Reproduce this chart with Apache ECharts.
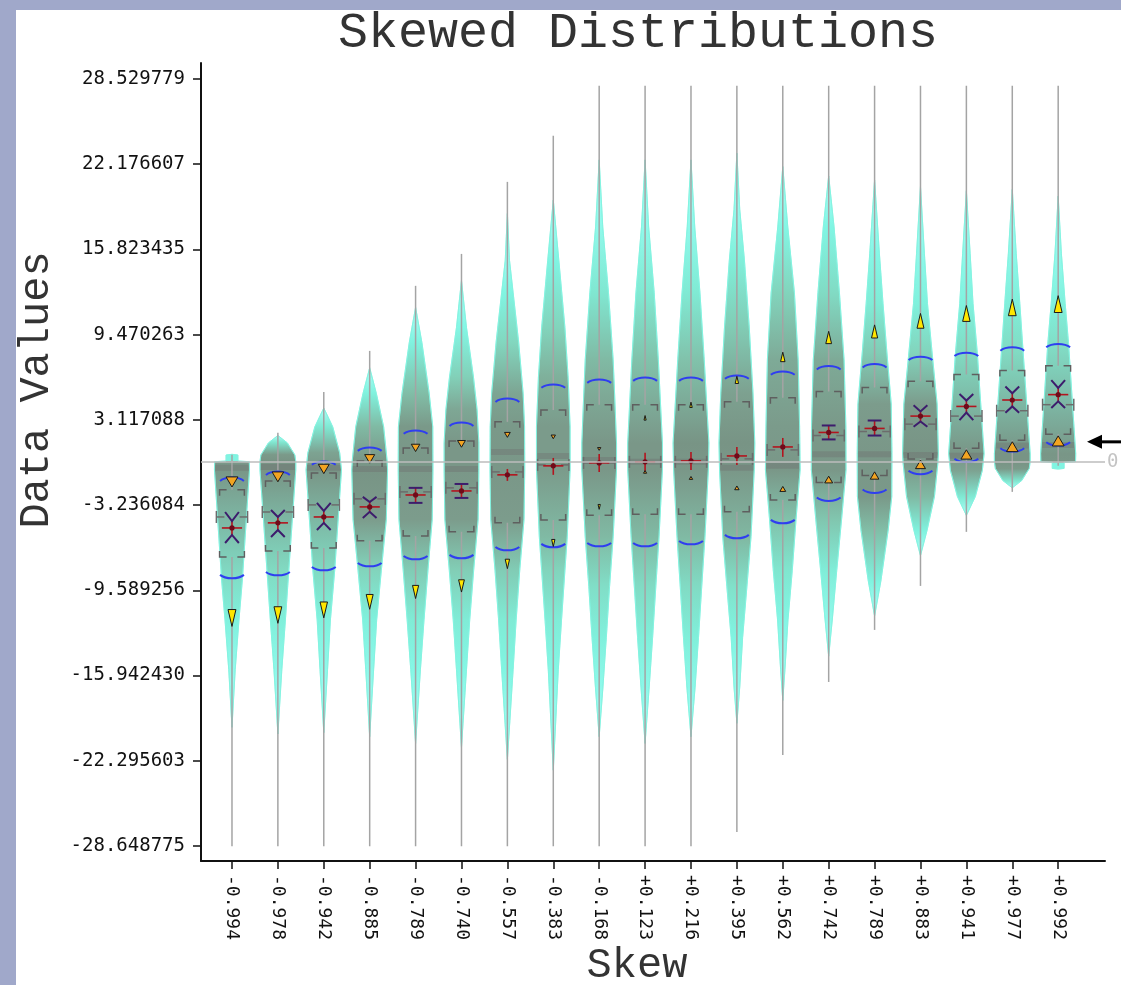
<!DOCTYPE html>
<html><head><meta charset="utf-8">
<script src="https://cdn.jsdelivr.net/npm/echarts@6.0.0/dist/echarts.min.js"></script>
<style>html,body{margin:0;padding:0;background:#a0a8ca;}#c{width:1121px;height:985px;}</style>
</head><body><div id="c"></div>
<script>
// ---------------- data ----------------
const categories = ['-0.994','-0.978','-0.942','-0.885','-0.789','-0.740','-0.557','-0.383','-0.168','+0.123','+0.216','+0.395','+0.562','+0.742','+0.789','+0.883','+0.941','+0.977','+0.992'];
const yTickLabels = ['28.529779','22.176607','15.823435','9.470263','3.117088','-3.236084','-9.589256','-15.942430','-22.295603','-28.648775'];

// data range (whisker ends)
const rangeMax = [0.51, 2.15, 5.20, 8.26, 13.11, 15.49, 20.86, 24.29, 28.02, 28.02, 28.02, 28.02, 28.02, 28.02, 28.02, 28.02, 28.02, 28.02, 28.02];
const rangeMin = [-28.66, -28.66, -28.66, -28.66, -28.66, -28.66, -28.66, -28.66, -28.66, -28.66, -28.66, -27.61, -21.86, -16.42, -12.54, -9.26, -5.23, -2.25, -0.31];
// quartiles (corner brackets)
const q3 = [-2.10, -1.43, -0.84, 0.06, 1.03, 1.55, 2.97, 3.86, 4.24, 4.24, 4.24, 4.46, 4.76, 5.24, 5.53, 6.00, 6.50, 6.80, 7.15];
const q1 = [-7.10, -6.65, -6.43, -5.90, -5.53, -5.23, -4.56, -4.34, -4.00, -3.92, -3.92, -3.74, -2.85, -1.55, -1.03, 0.20, 1.00, 1.60, 2.05];
// median (H bracket)
const median = [-4.12, -3.75, -3.22, -2.77, -2.25, -1.95, -0.76, -0.24, -0.09, -0.01, -0.01, 0.21, 0.88, 1.95, 2.25, 2.80, 3.40, 3.80, 4.25];
// mean and its error bar (red cross)
const mean = [-4.94, -4.56, -4.12, -3.37, -2.48, -2.18, -0.98, -0.31, -0.09, -0.01, 0.06, 0.43, 1.10, 2.18, 2.48, 3.40, 4.12, 4.60, 5.00];
const seHi = [-4.42, -4.12, -3.67, -3.00, -1.95, -1.66, -0.54, 0.28, 0.58, 0.66, 0.73, 1.10, 1.77, 2.70, 3.07, 3.75, 4.56, 5.10, 5.50];
const seLo = [-5.46, -5.09, -4.56, -3.74, -3.07, -2.70, -1.43, -0.98, -0.76, -0.69, -0.61, -0.24, 0.36, 1.66, 1.95, 3.00, 3.67, 4.12, 4.50];
// notch arm tips (purple X)
const notchHi = [-3.75, -3.60, -3.07, -2.62, -1.95, -1.66, null, null, null, null, null, null, null, 2.70, 3.07, 4.20, 5.05, 5.60, 6.08];
const notchLo = [-6.06, -5.61, -5.09, -4.19, -3.07, -2.70, null, null, null, null, null, null, null, 1.66, 1.95, 2.60, 3.10, 3.65, 4.00];
// mean +/- sd (blue arcs)
const sdHi = [-1.21, -0.76, -0.01, 1.03, 2.30, 2.89, 4.68, 5.73, 6.10, 6.25, 6.25, 6.40, 6.70, 7.10, 7.25, 7.80, 8.10, 8.50, 8.75];
const sdLo = [-8.66, -8.44, -8.07, -7.77, -7.25, -7.17, -6.58, -6.35, -6.28, -6.28, -6.13, -5.68, -4.56, -2.90, -2.30, -0.90, 0.00, 0.78, 1.23];
// mode (orange triangle) and tail marker (yellow triangle)
const modeVal = [-1.51, -1.13, -0.54, 0.21, 1.03, 1.33, 2.00, 1.85, 0.95, -0.76, -1.21, -1.95, -2.03, -1.33, -1.03, -0.20, 0.54, 1.12, 1.55];
const tailVal = [-11.65, -11.43, -11.05, -10.45, -9.71, -9.26, -7.62, -6.06, -3.37, 3.27, 4.24, 6.10, 7.81, 9.26, 9.71, 10.50, 11.05, 11.50, 11.75];
// darker density band
const bandVal = [-0.46, -0.39, -0.46, -0.54, -0.54, -0.54, 0.73, 0.43, 0.13, -0.01, -0.01, -0.46, -0.31, 0.55, 0.55, 0.50, 0.45, 1.20, 1.25];
// density profiles: [value, relative density]
const profile0  = [[0.55,0],[0.5,0.33],[0.05,0.33],[0.0,0.97],[-0.6,0.98],[-8.8,0.58],[-11.8,0.39],[-15.5,0.18],[-19.8,0]];
const profile1  = [[1.95,0],[1.4,0.53],[0.5,0.95],[0.0,1.0],[-0.6,1.0],[-8.1,0.61],[-11.8,0.42],[-15.5,0.22],[-20.3,0]];
const profile2  = [[4.0,0],[2.6,0.5],[0.66,0.89],[-0.6,0.99],[-8.1,0.61],[-11.8,0.37],[-15.5,0.21],[-20.2,0]];
const profile3  = [[7.0,0],[5.1,0.37],[2.6,0.78],[0.13,0.97],[-0.6,1.0],[-4.3,0.93],[-8.1,0.65],[-11.8,0.39],[-15.5,0.22],[-20.5,0]];
const profile4  = [[11.5,0],[8.9,0.35],[5.1,0.76],[2.6,0.96],[-0.6,0.97],[-4.3,0.93],[-8.1,0.69],[-11.8,0.47],[-15.5,0.27],[-21.0,0]];
const profile5  = [[13.5,0],[10.0,0.28],[6.3,0.67],[3.9,0.87],[1.4,0.97],[-0.6,0.97],[-4.3,0.93],[-8.1,0.68],[-11.8,0.46],[-15.5,0.28],[-21.3,0]];
const profile6  = [[18.5,0],[15.0,0.12],[12.6,0.32],[8.9,0.63],[5.1,0.88],[2.6,0.96],[-0.6,0.97],[-4.3,0.93],[-8.1,0.69],[-11.8,0.49],[-15.5,0.32],[-19.3,0.14],[-22.2,0]];
const profile7  = [[19.5,0],[15.0,0.31],[10.0,0.65],[6.3,0.83],[2.6,0.94],[-0.6,0.94],[-5.6,0.78],[-8.1,0.65],[-11.8,0.46],[-15.5,0.28],[-23.0,0]];
const profile8  = [[22.5,0],[17.5,0.2],[12.6,0.52],[7.6,0.78],[5.1,0.86],[1.4,0.97],[-0.6,0.97],[-5.6,0.78],[-9.3,0.58],[-13.1,0.4],[-16.8,0.21],[-20.5,0]];
const profile9  = [[22.5,0],[17.5,0.2],[12.6,0.51],[7.6,0.74],[1.4,0.97],[-0.6,0.97],[-5.6,0.78],[-9.3,0.6],[-13.1,0.42],[-16.8,0.23],[-21.0,0]];
const profile10 = [[22.5,0],[17.5,0.21],[12.6,0.5],[7.6,0.74],[1.4,1.0],[-0.6,0.97],[-5.6,0.78],[-9.3,0.6],[-13.1,0.42],[-16.8,0.23],[-20.5,0]];
const profile11 = [[23.0,0],[18.8,0.16],[15.05,0.42],[10.05,0.69],[5.13,0.9],[1.4,1.0],[-0.6,0.97],[-5.6,0.79],[-9.3,0.56],[-13.1,0.32],[-16.8,0.16],[-19.5,0]];
const profile12 = [[22.0,0],[17.5,0.28],[12.6,0.65],[7.6,0.86],[2.6,0.94],[-0.6,0.97],[-4.3,0.74],[-8.1,0.53],[-11.8,0.29],[-15.5,0.12],[-17.8,0]];
const profile13 = [[21.3,0],[17.5,0.3],[12.6,0.6],[7.6,0.86],[2.6,0.96],[-0.6,0.97],[-4.3,0.72],[-8.1,0.45],[-11.8,0.2],[-14.5,0]];
const profile14 = [[21.0,0],[15.5,0.27],[11.8,0.47],[8.1,0.69],[4.3,0.93],[0.6,0.97],[-2.6,0.96],[-5.1,0.76],[-8.9,0.35],[-11.5,0]];
const profile15 = [[20.5,0],[15.5,0.22],[11.8,0.39],[8.1,0.65],[4.3,0.93],[0.6,1.0],[-0.13,0.97],[-2.6,0.78],[-5.1,0.37],[-7.0,0]];
const profile16 = [[20.2,0],[15.5,0.21],[11.8,0.37],[8.1,0.61],[0.6,0.99],[-0.66,0.89],[-2.6,0.5],[-4.0,0]];
const profile17 = [[20.3,0],[15.5,0.22],[11.8,0.42],[8.1,0.61],[0.6,1.0],[0.0,1.0],[-0.5,0.95],[-1.4,0.53],[-1.95,0]];
const profile18 = [[19.8,0],[15.5,0.18],[11.8,0.39],[8.8,0.58],[0.6,0.98],[0.0,0.97],[-0.05,0.33],[-0.5,0.33],[-0.55,0]];
const profiles = [profile0,profile1,profile2,profile3,profile4,profile5,profile6,profile7,profile8,profile9,profile10,profile11,profile12,profile13,profile14,profile15,profile16,profile17,profile18];
const arrowValue = 1.48;

// ---------------- rendering ----------------
const skews = categories.map(Number);
const yTickVals = yTickLabels.map(Number);
const MONO = '"DejaVu Sans Mono", monospace';
const TITLEFONT = '"Liberation Mono", "Courier New", monospace';

const colorStops = [[0,[175,255,250]],[0.3,[128,246,228]],[0.5,[128,234,212]],[0.65,[130,212,188]],[0.8,[128,182,160]],[0.92,[124,157,141]],[1.0,[120,148,133]]];
function densityColor(d) {
  for (let k = 1; k < colorStops.length; k++) {
    if (d <= colorStops[k][0]) {
      const a = colorStops[k-1], b = colorStops[k];
      const t = (d - a[0]) / (b[0] - a[0]);
      const c = a[1].map((x, j) => Math.round(x + (b[1][j] - x) * t));
      return 'rgb(' + c.join(',') + ')';
    }
  }
  return 'rgb(' + colorStops[colorStops.length-1][1].join(',') + ')';
}
function densityAt(prof, v) {
  for (let k = 1; k < prof.length; k++) {
    const a = prof[k-1], b = prof[k];
    if (v <= a[0] && v >= b[0]) {
      const t = (a[0] - v) / (a[0] - b[0] || 1);
      return a[1] + (b[1] - a[1]) * t;
    }
  }
  return 0;
}

function renderViolin(params, api) {
  const i = params.dataIndex;
  const prof = profiles[i];
  const bw = api.size([1, 0])[0];
  const maxHW = bw * 0.39;
  const right = [], left = [];
  prof.forEach(([v, d]) => {
    const p = api.coord([i, v]);
    right.push([p[0] + d * maxHW, p[1]]);
    left.unshift([p[0] - d * maxHW, p[1]]);
  });
  const y0 = right[0][1], y1 = right[right.length - 1][1];
  const gstops = prof.map(([v, d]) => ({ offset: Math.min(1, Math.max(0, (api.coord([i, v])[1] - y0) / (y1 - y0))), color: densityColor(d) }));
  const children = [{
    type: 'polygon',
    shape: { points: right.concat(left) },
    style: { fill: new echarts.graphic.LinearGradient(0, 0, 0, 1, gstops), stroke: 'rgba(130,242,224,0.8)', lineWidth: 1 }
  }];
  // darker band
  const bv = bandVal[i];
  const bd = densityAt(prof, bv);
  const bp = api.coord([i, bv]);
  children.push({ type: 'rect', shape: { x: bp[0] - bd * maxHW + 1, y: bp[1] - 3, width: Math.max(0, 2 * bd * maxHW - 2), height: 6 }, style: { fill: 'rgba(110,110,110,0.38)' } });
  return { type: 'group', children };
}

function renderOverlay(params, api) {
  const i = params.dataIndex;
  const bw = api.size([1, 0])[0];
  const cx = api.coord([i, 0])[0];
  const Y = v => api.coord([i, v])[1];
  const kids = [];
  const line = (pts, color, w) => kids.push({ type: 'polyline', shape: { points: pts }, style: { stroke: color, lineWidth: w, fill: null } });
  // whiskers
  line([[cx, Y(rangeMax[i])], [cx, Y(q3[i])]], '#a4a4a4', 1.5);
  line([[cx, Y(q1[i])], [cx, Y(rangeMin[i])]], '#a4a4a4', 1.5);
  // blue arcs
  const aw = bw * 0.26;
  const yh = Y(sdHi[i]), yl = Y(sdLo[i]);
  kids.push({ type: 'bezierCurve', shape: { x1: cx - aw, y1: yh + 3, x2: cx + aw, y2: yh + 3, cpx1: cx - aw * 0.55, cpy1: yh - 1.5, cpx2: cx + aw * 0.55, cpy2: yh - 1.5 }, style: { stroke: '#2f3ef0', lineWidth: 2, fill: null } });
  kids.push({ type: 'bezierCurve', shape: { x1: cx - aw, y1: yl - 3, x2: cx + aw, y2: yl - 3, cpx1: cx - aw * 0.55, cpy1: yl + 1.5, cpx2: cx + aw * 0.55, cpy2: yl + 1.5 }, style: { stroke: '#2f3ef0', lineWidth: 2, fill: null } });
  // quartile corner brackets
  const bh = bw * 0.27, arm = 6;
  const yq3 = Y(q3[i]), yq1 = Y(q1[i]);
  const bc = '#5f5f5f';
  line([[cx - bh, yq3 + arm], [cx - bh, yq3], [cx - bh + arm + 1, yq3]], bc, 1.5);
  line([[cx + bh, yq3 + arm], [cx + bh, yq3], [cx + bh - arm - 1, yq3]], bc, 1.5);
  line([[cx - bh, yq1 - arm], [cx - bh, yq1], [cx - bh + arm + 1, yq1]], bc, 1.5);
  line([[cx + bh, yq1 - arm], [cx + bh, yq1], [cx + bh - arm - 1, yq1]], bc, 1.5);
  // median H bracket
  const hh = bw * 0.34, ymed = Y(median[i]);
  const hc = '#6c6c6c';
  line([[cx - hh, ymed - 6], [cx - hh, ymed + 6]], hc, 1.5);
  line([[cx + hh, ymed - 6], [cx + hh, ymed + 6]], hc, 1.5);
  line([[cx - hh, ymed], [cx - hh + 8, ymed]], hc, 1.5);
  line([[cx + hh, ymed], [cx + hh - 8, ymed]], hc, 1.5);
  // red mean cross
  const rw = bw * 0.22, ym = Y(mean[i]);
  line([[cx - rw, ym], [cx + rw, ym]], '#b3141e', 1.6);
  line([[cx, Y(seHi[i])], [cx, Y(seLo[i])]], '#b3141e', 1.6);
  // purple notch X
  if (notchHi[i] !== null) {
    const xw = bw * 0.15;
    line([[cx - xw, Y(notchHi[i])], [cx, Y(seHi[i])], [cx + xw, Y(notchHi[i])]], '#3d1c6c', 2);
    line([[cx - xw, Y(notchLo[i])], [cx, Y(seLo[i])], [cx + xw, Y(notchLo[i])]], '#3d1c6c', 2);
  }
  kids.push({ type: 'circle', shape: { cx: cx, cy: ym, r: 2.6 }, style: { fill: '#6e0b1a' } });
  // triangles
  const s = Math.abs(skews[i]);
  const dir = skews[i] < 0 ? 1 : -1; // 1 = pointing down
  const tri = (yc, w, h, fill) => {
    const pts = dir > 0
      ? [[cx - w / 2, yc - h / 2], [cx + w / 2, yc - h / 2], [cx, yc + h / 2]]
      : [[cx - w / 2, yc + h / 2], [cx + w / 2, yc + h / 2], [cx, yc - h / 2]];
    kids.push({ type: 'polygon', shape: { points: pts }, style: { fill: fill, stroke: '#1a1a1a', lineWidth: 1 } });
  };
  const ow = 3 + 9 * s * s;
  tri(Y(modeVal[i]), ow, ow * 0.85, '#f2a422');
  const yhgt = 4 + 13 * Math.pow(s, 1.5);
  tri(Y(tailVal[i]), yhgt * 0.47, yhgt, '#ffe600');
  return { type: 'group', children: kids };
}

const chart = echarts.init(document.getElementById('c'), null, { renderer: 'canvas' });
const seriesData = categories.map((c, i) => [i, mean[i]]);
const idx = categories.map((c, i) => i);

chart.setOption({
  backgroundColor: '#a0a8ca',
  animation: false,
  grid: { left: 201, right: 16, top: 63, bottom: 124, containLabel: false },
  xAxis: {
    type: 'value', min: -0.675, max: 19.02,
    axisLine: { show: true, onZero: false, lineStyle: { color: '#111', width: 2 } },
    axisTick: { show: true, customValues: idx, length: 8, lineStyle: { color: '#111', width: 1.5 } },
    axisLabel: { customValues: idx, formatter: v => categories[Math.round(v)], rotate: -90, margin: 14, color: '#111', fontFamily: MONO, fontSize: 18 },
    splitLine: { show: false }
  },
  yAxis: {
    type: 'value', min: -29.767, max: 29.722,
    axisLine: { show: true, onZero: false, lineStyle: { color: '#111', width: 2 } },
    axisTick: { show: true, customValues: yTickVals, length: 8, lineStyle: { color: '#111', width: 1.5 } },
    axisLabel: { customValues: yTickVals, formatter: v => { const k = yTickVals.findIndex(t => Math.abs(t - v) < 1e-6); return k >= 0 ? yTickLabels[k] : ''; }, margin: 16, color: '#111', fontFamily: MONO, fontSize: 19 },
    splitLine: { show: false }
  },
  graphic: [
    { type: 'rect', id: 'panel', z: -100, shape: { x: 16, y: 10, width: 1105, height: 975 }, style: { fill: '#ffffff' } },
    { type: 'text', id: 'title', x: 638, y: 34, style: { text: 'Skewed Distributions', font: '50px ' + TITLEFONT, fill: '#333', align: 'center', verticalAlign: 'middle' } },
    { type: 'text', id: 'ytitle', x: 37, y: 390, rotation: Math.PI / 2, style: { text: 'Data Values', font: '42px ' + TITLEFONT, fill: '#333', align: 'center', verticalAlign: 'middle' } },
    { type: 'text', id: 'xtitle', x: 637, y: 966, style: { text: 'Skew', font: '42px ' + TITLEFONT, fill: '#333', align: 'center', verticalAlign: 'middle' } }
  ],
  series: [
    { type: 'custom', name: 'violin', renderItem: renderViolin, data: seriesData, encode: { x: 0, y: 1 }, z: 2, clip: true },
    { type: 'custom', name: 'zero', renderItem: () => ({ type: 'group', children: [] }), data: seriesData, z: 3,
      markLine: { symbol: 'none', silent: true, data: [{ yAxis: 0 }], lineStyle: { color: '#bdbdbd', width: 1.5, type: 'solid' },
        label: { show: true, position: 'end', formatter: '0.000000', color: '#c4c4c4', fontFamily: MONO, fontSize: 19, distance: 2 } } },
    { type: 'custom', name: 'stats', renderItem: renderOverlay, data: seriesData, encode: { x: 0, y: 1 }, z: 4, clip: false }
  ]
});

const ay = chart.convertToPixel({ xAxisIndex: 0, yAxisIndex: 0 }, [0, arrowValue])[1];
chart.setOption({
  graphic: [
    { type: 'line', id: 'arrowShaft', shape: { x1: 1098, y1: ay, x2: 1121, y2: ay }, style: { stroke: '#000', lineWidth: 3 } },
    { type: 'polygon', id: 'arrowHead', shape: { points: [[1087, ay], [1102, ay - 7], [1102, ay + 7]] }, style: { fill: '#000' } }
  ]
});
</script></body></html>
